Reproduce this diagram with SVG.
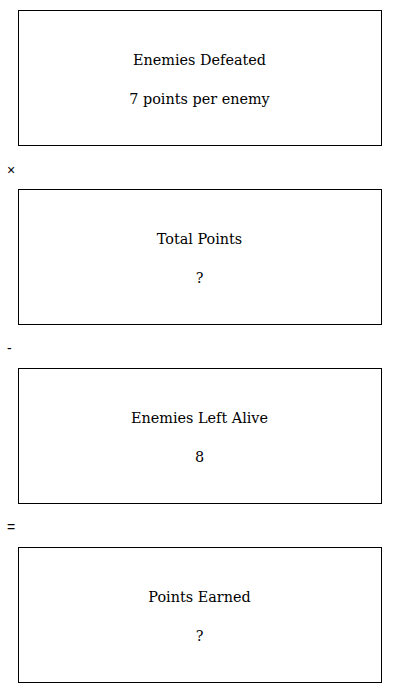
<svg xmlns="http://www.w3.org/2000/svg" width="400" height="693" viewBox="0 0 400 693">
<style>
.box{fill:#fff;stroke:#000;stroke-width:1}
.t{font-family:"DejaVu Serif","Liberation Serif",serif;font-size:14.4px;text-anchor:middle;fill:#000}
.op{font-family:"Liberation Sans",Arial,sans-serif;font-size:14px;fill:#000}
</style>
<rect width="400" height="693" fill="#fff"/>
<g id="node1"><rect class="box" x="18.5" y="10.5" width="363" height="135"/><text class="t" x="199.5" y="65">Enemies Defeated</text><text class="t" x="199.5" y="104">7 points per enemy</text></g>
<g id="node2"><rect class="box" x="18.5" y="189.5" width="363" height="135"/><text class="t" x="199.5" y="244">Total Points</text><text class="t" x="199.5" y="283">?</text></g>
<g id="node3"><rect class="box" x="18.5" y="368.5" width="363" height="135"/><text class="t" x="199.5" y="423">Enemies Left Alive</text><text class="t" x="199.5" y="462">8</text></g>
<g id="node4"><rect class="box" x="18.5" y="547.5" width="363" height="135"/><text class="t" x="199.5" y="602">Points Earned</text><text class="t" x="199.5" y="641">?</text></g>
<g id="connectors">
<text class="op" x="7" y="175">×</text>
<text class="op" x="7" y="353">-</text>
<text class="op" x="7" y="532">=</text>
</g>
</svg>
